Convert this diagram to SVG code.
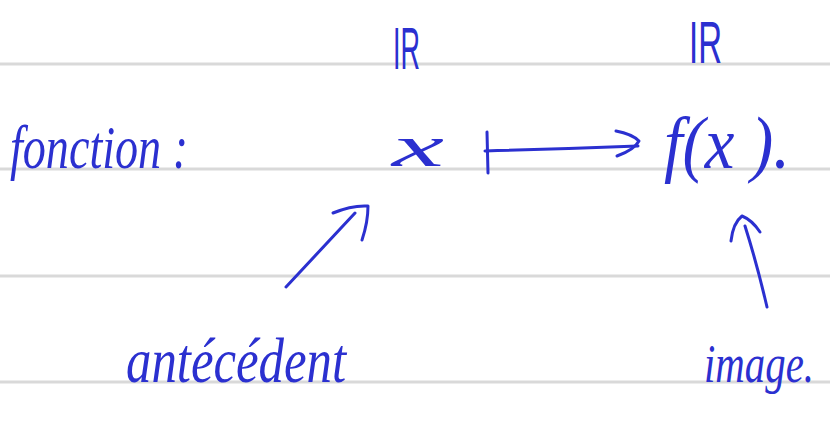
<svg xmlns="http://www.w3.org/2000/svg" width="830" height="436" viewBox="0 0 830 436">
<style>
.rule{stroke:#d9d9d9;stroke-width:3;fill:none}
.ink{fill:#2b30d0;font-family:"Liberation Serif",serif;font-style:italic}
.sans{fill:#2b30d0;font-family:"Liberation Sans",sans-serif}
.pen{stroke:#2b30d0;stroke-width:3;fill:none;stroke-linecap:round;stroke-linejoin:round}
</style>
<rect width="830" height="436" fill="#fff"/>
<g id="rules">
<line class="rule" x1="0" y1="64" x2="830" y2="64"/>
<line class="rule" x1="0" y1="169" x2="830" y2="169"/>
<line class="rule" x1="0" y1="276" x2="830" y2="276"/>
<line class="rule" x1="0" y1="382" x2="830" y2="382"/>
</g>
<g id="fonction"><text class="ink" x="10" y="168" font-size="62" textLength="178" lengthAdjust="spacingAndGlyphs">fonction :</text></g>
<g id="R1"><text class="sans" x="393" y="69" font-size="60" textLength="27" lengthAdjust="spacingAndGlyphs">IR</text></g>
<g id="R2"><text class="sans" x="689" y="63" font-size="60" textLength="33" lengthAdjust="spacingAndGlyphs">IR</text></g>
<g id="x"><text class="ink" x="392" y="166" font-size="60" textLength="52" lengthAdjust="spacingAndGlyphs">x</text></g>
<g id="fx"><text class="ink" x="664" y="168" font-size="74" textLength="126" lengthAdjust="spacingAndGlyphs">f(x ).</text></g>
<g id="antecedent"><text class="ink" x="126" y="382" font-size="64" textLength="220" lengthAdjust="spacingAndGlyphs">antécédent</text></g>
<g id="image"><text class="ink" x="704" y="382" font-size="54" textLength="110" lengthAdjust="spacingAndGlyphs">image.</text></g>
<g id="connectors">
<path class="pen" d="M487,132 L488,173"/>
<path class="pen" d="M485,151 Q560,149 638,146"/>
<path class="pen" d="M616,131 Q632,134 639,141 Q634,150 617,156"/>
<path class="pen" d="M286,287 L355,213"/>
<path class="pen" d="M333,213 Q352,205 368,206 Q368,222 362,240"/>
<path class="pen" d="M767,307 Q757,264 745,226"/>
<path class="pen" d="M731,241 Q733,223 742,216 Q752,220 760,232"/>
</g>
</svg>
